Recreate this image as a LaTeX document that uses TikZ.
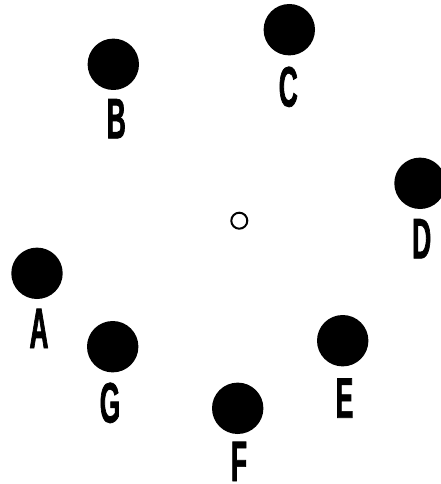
\documentclass[tikz,border=0pt]{standalone}
\usepackage{fontspec}
\newfontfamily\labfont[FakeStretch=0.46,FakeBold=1.2]{Liberation Sans Bold}
\tikzset{
  dot/.style={circle, fill=black, draw=none, minimum size=51.4pt, inner sep=0pt},
  hub/.style={circle, draw=black, line width=2pt, fill=white, minimum size=16pt, inner sep=0pt},
  lab/.style={anchor=base, inner sep=0pt, font=\labfont\fontsize{57}{57}\selectfont}
}
\begin{document}
\begin{tikzpicture}[x=1pt,y=-1pt]
\useasboundingbox (0,0) rectangle (441,484);
\clip (0,0) rectangle (441,484);
\node[hub] (o) at (239.3,220.7) {};
\node[dot] (A) at (37,273.3) {};
\node[dot] (B) at (113.3,64.3) {};
\node[dot] (C) at (289.3,29.7) {};
\node[dot] (D) at (420,183.3) {};
\node[dot] (E) at (342.7,340.7) {};
\node[dot] (F) at (237.7,408.3) {};
\node[dot] (G) at (112.7,346.7) {};
\node[lab] (lA) at (39,348) {A};
\node[lab] (lB) at (116.3,138.3) {B};
\node[lab] (lC) at (288.3,106.5) {C};
\node[lab] (lD) at (421.7,258.3) {D};
\node[lab] (lE) at (344.5,417.7) {E};
\node[lab] (lF) at (239,481) {F};
\node[lab] (lG) at (110,422.5) {G};
\end{tikzpicture}
\end{document}
